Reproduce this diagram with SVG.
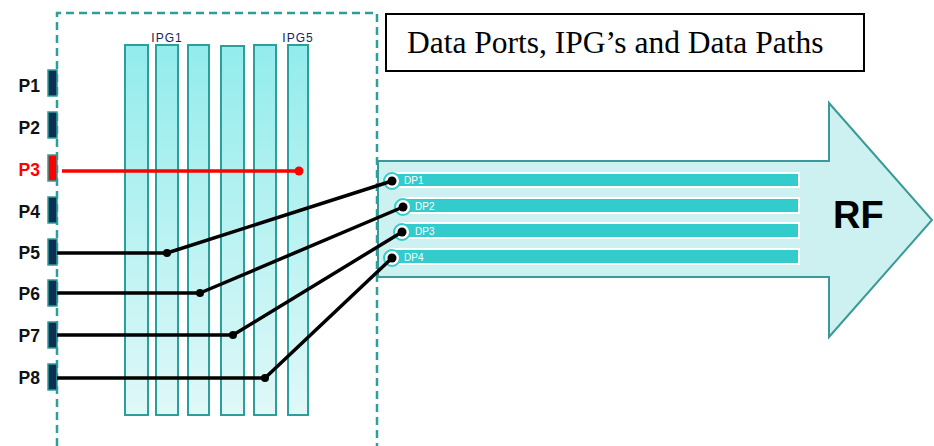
<svg xmlns="http://www.w3.org/2000/svg" width="934" height="446" viewBox="0 0 934 446">
<defs>
<linearGradient id="ipg" x1="0" y1="0" x2="0" y2="1">
<stop offset="0" stop-color="#93ecec"/>
<stop offset="1" stop-color="#e0f8f8"/>
</linearGradient>
<style>
.ipg{fill:url(#ipg);stroke:#2c9e9b;stroke-width:2}
.port{fill:#0c2f52;stroke:#2c9e9b;stroke-width:1.5}
.plab{font-family:"Liberation Sans",Arial,sans-serif;font-weight:bold;font-size:17.5px;fill:#111;text-anchor:end}
.ipgl{font-family:"Liberation Sans",Arial,sans-serif;font-size:12px;fill:#14245e;letter-spacing:1px;text-anchor:middle}
.stripe{fill:#33cccc;stroke:#fff;stroke-width:2}
.dpc{fill:#fff;stroke:#33cccc;stroke-width:2}
.dpl{font-family:"Liberation Sans",Arial,sans-serif;font-size:10px;fill:#fff}
.wire{fill:none;stroke:#000;stroke-width:3.5;stroke-linejoin:round}
.dot{fill:#000}
</style>
</defs>
<rect width="934" height="446" fill="#fff"/>
<g id="frame">
<path d="M57,446 V13 H377 V446" fill="none" stroke="#2c9e9b" stroke-width="2.5" stroke-dasharray="8 5"/>
</g>
<g id="title">
<rect x="386" y="14" width="478" height="57" fill="#fff" stroke="#000" stroke-width="2"/>
<text x="407" y="53" font-family="'Liberation Serif','Times New Roman',serif" font-size="31.5" fill="#000">Data Ports, IPG’s and Data Paths</text>
</g>
<g id="arrow">
<path d="M378,161 H829 V103 L932,220 L829,337 V277 H378 Z" fill="#cdf1f1" stroke="#3a9a98" stroke-width="2"/>
<text x="833" y="228" font-family="'Liberation Sans',Arial,sans-serif" font-weight="bold" font-size="38" fill="#000">RF</text>
</g>
<g id="ipgs">
<rect class="ipg" x="125" y="45" width="23" height="370"/>
<rect class="ipg" x="156" y="45" width="22" height="370"/>
<rect class="ipg" x="188" y="45" width="21" height="370"/>
<rect class="ipg" x="221" y="46" width="23" height="369"/>
<rect class="ipg" x="254" y="45" width="22" height="370"/>
<rect class="ipg" x="288" y="45" width="20" height="370"/>
<text class="ipgl" x="167" y="42">IPG1</text>
<text class="ipgl" x="298" y="42">IPG5</text>
</g>
<g id="ports">
<rect class="port" x="48" y="70" width="9" height="26"/>
<rect class="port" x="48" y="112" width="9" height="26"/>
<rect x="48" y="155" width="9" height="26" fill="#ff0000" stroke="#2c9e9b" stroke-width="1.5"/>
<rect class="port" x="48" y="197" width="9" height="26"/>
<rect class="port" x="48" y="239" width="9" height="26"/>
<rect class="port" x="48" y="280" width="9" height="26"/>
<rect class="port" x="48" y="322" width="9" height="26"/>
<rect class="port" x="48" y="364" width="9" height="26"/>
<text class="plab" x="40" y="92">P1</text>
<text class="plab" x="40" y="134">P2</text>
<text class="plab" x="40" y="176" style="fill:#ff0000">P3</text>
<text class="plab" x="40" y="218">P4</text>
<text class="plab" x="40" y="259">P5</text>
<text class="plab" x="40" y="300">P6</text>
<text class="plab" x="40" y="342">P7</text>
<text class="plab" x="40" y="384">P8</text>
</g>
<g id="datapaths">
<rect class="stripe" x="392" y="173" width="407" height="14"/>
<rect class="stripe" x="403" y="198" width="396" height="15"/>
<rect class="stripe" x="402" y="223" width="397" height="15"/>
<rect class="stripe" x="392" y="249" width="407" height="15"/>
<circle class="dpc" cx="392" cy="181" r="8"/>
<circle class="dpc" cx="403" cy="207" r="8"/>
<circle class="dpc" cx="402" cy="232" r="8"/>
<circle class="dpc" cx="392" cy="258" r="8"/>
<text class="dpl" x="404" y="184">DP1</text>
<text class="dpl" x="415" y="210">DP2</text>
<text class="dpl" x="415" y="235">DP3</text>
<text class="dpl" x="404" y="261">DP4</text>
</g>
<g id="connectors">
<path d="M62,171 H299" fill="none" stroke="#ff0000" stroke-width="3.5"/>
<circle cx="299" cy="171" r="4.5" fill="#ff0000"/>
<path class="wire" d="M57,253 H167 L392,181"/>
<path class="wire" d="M57,293 H200 L403,207"/>
<path class="wire" d="M57,335 H233 L402,232"/>
<path class="wire" d="M57,378 H265 L392,258"/>
<circle class="dot" cx="167" cy="253" r="4"/>
<circle class="dot" cx="200" cy="293" r="4"/>
<circle class="dot" cx="233" cy="335" r="4"/>
<circle class="dot" cx="265" cy="378" r="4"/>
<circle class="dot" cx="392" cy="181" r="4.5"/>
<circle class="dot" cx="403" cy="207" r="4.5"/>
<circle class="dot" cx="402" cy="232" r="4.5"/>
<circle class="dot" cx="392" cy="258" r="4.5"/>
</g>
</svg>
